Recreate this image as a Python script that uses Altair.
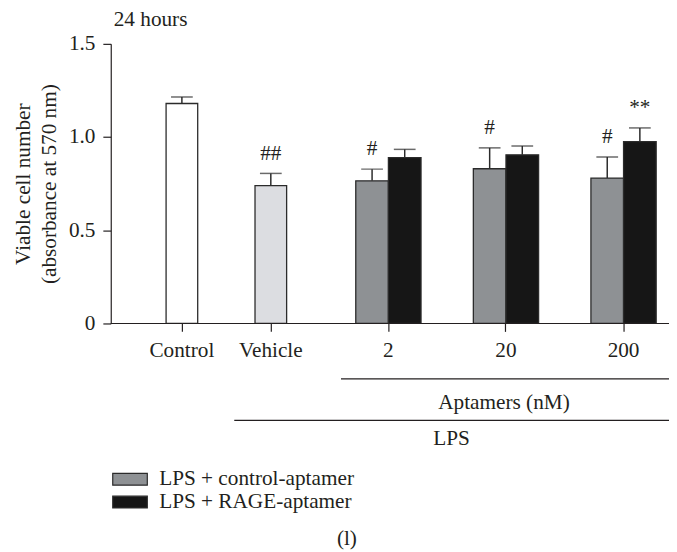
import altair as alt
import pandas as pd

FONT = "Liberation Serif"
FS = 21.5
INK = "#231f20"

# ---- data ----
single_groups = ["Control", "Vehicle"]
single_means = [1.18, 0.74]
single_errs = [0.035, 0.065]
single_marks = ["", "##"]

pair_groups = ["2", "20", "200"]
series_names = ["LPS + control-aptamer", "LPS + RAGE-aptamer"]
ctrl_apt_means = [0.765, 0.83, 0.78]
ctrl_apt_errs = [0.063, 0.112, 0.113]
ctrl_apt_marks = ["#", "#", "#"]
rage_apt_means = [0.89, 0.905, 0.975]
rage_apt_errs = [0.044, 0.047, 0.074]
rage_apt_marks = ["", "", "**"]

y_ticks = [0, 0.5, 1.0, 1.5]

# ---- tables ----
singles = pd.DataFrame({"group": single_groups, "mean": single_means,
                        "err": single_errs, "mark": single_marks})
singles["upper"] = singles["mean"] + singles["err"]

rows = []
for g, m, e, k in zip(pair_groups, ctrl_apt_means, ctrl_apt_errs, ctrl_apt_marks):
    rows.append({"group": g, "series": series_names[0], "mean": m, "err": e, "mark": k})
for g, m, e, k in zip(pair_groups, rage_apt_means, rage_apt_errs, rage_apt_marks):
    rows.append({"group": g, "series": series_names[1], "mean": m, "err": e, "mark": k})
pairs = pd.DataFrame(rows)
pairs["upper"] = pairs["mean"] + pairs["err"]

x_axis = alt.Axis(title=None, orient="bottom", labelAngle=0, labelFont=FONT,
                  labelFontSize=FS, labelColor=INK, tickSize=8, tickColor=INK,
                  tickWidth=1.2, domain=False, labelPadding=8, grid=False)

single_scale = alt.Scale(domain=single_groups, range=[27, 207],
                         paddingInner=0.6, paddingOuter=0.3)
pair_scale = alt.Scale(domain=pair_groups, range=[221.5, 578.5],
                       paddingInner=0.445, paddingOuter=0.2225)

xs_axis = alt.X("group:N", sort=single_groups, scale=single_scale, axis=x_axis)
xs = alt.X("group:N", sort=single_groups, scale=single_scale, axis=None)
xp_axis = alt.X("group:N", sort=pair_groups, scale=pair_scale, axis=x_axis)
xp = alt.X("group:N", sort=pair_groups, scale=pair_scale, axis=None)

y_scale = alt.Scale(domain=[0, 1.5], nice=False, zero=True)
y_enc = alt.Y(
    "mean:Q",
    scale=y_scale,
    axis=alt.Axis(values=y_ticks, grid=False, tickSize=8, tickColor=INK, tickWidth=1.2,
                  domainColor=INK, domainWidth=1.2, labelFont=FONT, labelFontSize=FS,
                  labelColor=INK, labelPadding=8,
                  labelExpr="datum.value == 0 ? '0' : format(datum.value, '.1f')",
                  title=["Viable cell number", "(absorbance at 570 nm)"],
                  titleFont=FONT, titleFontSize=FS, titleFontWeight="normal",
                  titleColor=INK, titleLineHeight=26, titleAngle=270,
                  titleX=-88, titleY=141.5, titleAlign="center", titleBaseline="middle"),
)
y_upper = alt.Y("upper:Q", scale=y_scale)
y_mean = alt.Y("mean:Q", scale=y_scale)

color_scale = alt.Scale(domain=series_names, range=["#8e9194", "#161616"])
OFF = alt.XOffset("series:N", sort=series_names, scale=alt.Scale(domain=series_names))

single_bars = alt.Chart(singles).mark_bar(size=32, stroke="#2b2b2b", strokeWidth=1.3).encode(
    x=xs_axis, y=y_enc,
    fill=alt.condition(alt.datum.group == "Control", alt.value("#ffffff"), alt.value("#dcdde1")),
)
single_rule = alt.Chart(singles).mark_rule(color="#2b2b2b", strokeWidth=1.5).encode(
    x=xs, y=y_mean, y2="upper:Q")
single_cap = alt.Chart(singles).mark_tick(color="#2b2b2b", size=22, thickness=1.5).encode(
    x=xs, y=y_upper)
single_txt = alt.Chart(singles).mark_text(font=FONT, fontSize=FS, color=INK, dy=-20,
                                          baseline="middle").encode(
    x=xs, y=y_upper, text="mark:N")

pair_bars = alt.Chart(pairs).mark_bar(stroke="#2b2b2b", strokeWidth=1.3).encode(
    x=xp_axis, xOffset=OFF, y=y_mean,
    fill=alt.Fill("series:N", scale=color_scale,
                  legend=alt.Legend(orient="none", legendX=8.75, legendY=430, title=None,
                                    symbolType="M-2,-0.68H2V0.68H-2Z", symbolSize=306,
                                    symbolStrokeColor="#2b2b2b", symbolStrokeWidth=1.2,
                                    labelFont=FONT, labelFontSize=FS, labelColor=INK,
                                    labelLimit=0, labelOffset=18.75, rowPadding=0,
                                    padding=0)),
)
pair_rule = alt.Chart(pairs).mark_rule(color="#2b2b2b", strokeWidth=1.5).encode(
    x=xp, xOffset=OFF, y=y_mean, y2="upper:Q")
pair_cap = alt.Chart(pairs).mark_tick(color="#2b2b2b", size=22, thickness=1.5).encode(
    x=xp, xOffset=OFF, y=y_upper)
pair_txt = alt.Chart(pairs).mark_text(font=FONT, fontSize=FS, color=INK, dy=-20,
                                      baseline="middle").encode(
    x=xp, xOffset=OFF, y=y_upper, text="mark:N")

# ---- axis line and annotations below the axis ----
one = pd.DataFrame({"k": [0]})
x_line = alt.Chart(one).mark_rule(color=INK, strokeWidth=1.2).encode(
    x=alt.value(0), x2=alt.value(565), y=alt.value(283))
line1 = alt.Chart(one).mark_rule(color=INK, strokeWidth=1.3).encode(
    x=alt.value(233), x2=alt.value(565), y=alt.value(339))
line2 = alt.Chart(one).mark_rule(color=INK, strokeWidth=1.3).encode(
    x=alt.value(125), x2=alt.value(565), y=alt.value(381))
apt_txt = alt.Chart(pd.DataFrame({"t": ["Aptamers (nM)"]})).mark_text(
    font=FONT, fontSize=FS, color=INK, baseline="middle", align="center").encode(
    x=alt.value(398), y=alt.value(364), text="t:N")
lps_txt = alt.Chart(pd.DataFrame({"t": ["LPS"]})).mark_text(
    font=FONT, fontSize=FS, color=INK, baseline="middle", align="center").encode(
    x=alt.value(345), y=alt.value(400), text="t:N")
panel_txt = alt.Chart(pd.DataFrame({"t": ["(l)"]})).mark_text(
    font=FONT, fontSize=FS, color=INK, baseline="middle", align="center").encode(
    x=alt.value(239), y=alt.value(501), text="t:N")
hours_txt = alt.Chart(pd.DataFrame({"t": ["24 hours"]})).mark_text(
    font=FONT, fontSize=FS, color=INK, baseline="alphabetic", align="left").encode(
    x=alt.value(3), y=alt.value(-18), text="t:N")

chart = alt.layer(
    single_bars, single_rule, single_cap, single_txt,
    pair_rule, pair_cap, pair_bars, pair_txt,
    x_line, line1, line2, apt_txt, lps_txt, panel_txt, hours_txt,
).resolve_scale(x="independent").resolve_axis(x="independent").properties(
    width=565, height=283,
    padding={"left": 104, "top": 33, "right": 0, "bottom": 228},
    autosize=alt.AutoSizeParams(type="none"),
    background="white",
).configure_view(strokeWidth=0)

chart.save("out.html", embed_options={"renderer": "svg", "actions": False})
